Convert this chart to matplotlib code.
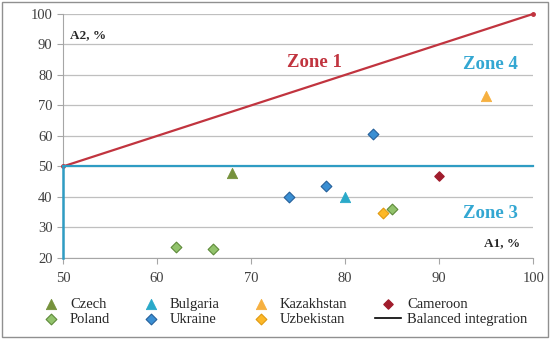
import matplotlib
matplotlib.use("Agg")
import matplotlib.pyplot as plt
from matplotlib.lines import Line2D
from matplotlib.patches import Rectangle

plt.rcParams["font.family"] = ["Liberation Serif", "DejaVu Serif"]

# country points (A1 %, A2 %)
czech_x, czech_y = [68], [48]
poland_x, poland_y = [62, 66, 85], [23.5, 23, 36]
bulgaria_x, bulgaria_y = [80], [40]
ukraine_x, ukraine_y = [74, 78, 83], [40, 43.7, 60.5]
kazakh_x, kazakh_y = [95], [73]
uzbek_x, uzbek_y = [84], [34.7]
cameroon_x, cameroon_y = [90], [47]

# zone boundaries
diag_x, diag_y = [50, 100], [50, 100]
horiz_x, horiz_y = [50, 100], [50, 50]
vert_x, vert_y = [50, 50], [20, 50]

xticks = [50, 60, 70, 80, 90, 100]
yticks = [20, 30, 40, 50, 60, 70, 80, 90, 100]

RED = "#C1343F"
BLUE = "#2F9CC3"
ZONE_BLUE = "#33A7D2"

fig = plt.figure(figsize=(5.5, 3.39), dpi=100)
ax = fig.add_axes([0.1145, 0.239, 0.855, 0.72])

ax.set_xlim(50, 100)
ax.set_ylim(20, 100)
ax.set_xticks(xticks)
ax.set_yticks(yticks)
ax.grid(axis="y", color="#BFBFBF", lw=0.9)
ax.set_axisbelow(True)
for s in ["top", "right"]:
    ax.spines[s].set_visible(False)
for s in ["left", "bottom"]:
    ax.spines[s].set_color("#A6A6A6")
ax.tick_params(colors="#A6A6A6", labelcolor="#404040", labelsize=10.5, length=4)
ax.tick_params(axis="x", pad=6)

ax.plot(diag_x, diag_y, color=RED, lw=1.6, marker="o", ms=2.5, zorder=3, clip_on=False)
ax.plot(horiz_x, horiz_y, color=BLUE, lw=1.6, zorder=3, clip_on=False)
ax.plot(vert_x, vert_y, color=BLUE, lw=1.8, zorder=3, clip_on=False)

tri = dict(marker="^", s=55, linewidths=0.6, zorder=4)
dia = dict(marker="D", s=30, linewidths=0.8, zorder=4)
h_cz = ax.scatter(czech_x, czech_y, color="#76923C", edgecolors="#76923C", **tri, label="Czech")
h_pl = ax.scatter(poland_x, poland_y, color="#92C36C", edgecolors="#5E8A3A", **dia, label="Poland")
h_bg = ax.scatter(bulgaria_x, bulgaria_y, color="#2AA9C9", edgecolors="#2AA9C9", **tri, label="Bulgaria")
h_ua = ax.scatter(ukraine_x, ukraine_y, color="#3A8FD3", edgecolors="#25609A", **dia, label="Ukraine")
h_kz = ax.scatter(kazakh_x, kazakh_y, color="#F6B040", edgecolors="#F6B040", **tri, label="Kazakhstan")
h_uz = ax.scatter(uzbek_x, uzbek_y, color="#FDB828", edgecolors="#E09A10", **dia, label="Uzbekistan")
h_cm = ax.scatter(cameroon_x, cameroon_y, color="#A01C2C", edgecolors="#A01C2C", marker="D",
                  s=22, zorder=4, label="Cameroon")
h_bal = Line2D([], [], color="black", lw=1.2, label="Balanced integration")

ax.text(50.8, 93, "A2, %", fontsize=9.5, fontweight="bold", color="#262626", va="center")
ax.text(98.6, 25, "A1, %", fontsize=9.5, fontweight="bold", color="#262626", va="center", ha="right")
ax.text(76.7, 84, "Zone 1", fontsize=13.5, fontweight="bold", color=RED, ha="center", va="center")
ax.text(95.5, 83.5, "Zone 4", fontsize=13.5, fontweight="bold", color=ZONE_BLUE, ha="center", va="center")
ax.text(95.5, 34.5, "Zone 3", fontsize=13.5, fontweight="bold", color=ZONE_BLUE, ha="center", va="center")

fig.legend(handles=[h_cz, h_pl, h_bg, h_ua, h_kz, h_uz, h_cm, h_bal], ncol=4,
           loc="lower left", bbox_to_anchor=(0.045, 0.0), frameon=False,
           fontsize=10.5, handlelength=1.8, handletextpad=0.4, columnspacing=1.9,
           labelspacing=0.1, labelcolor="#262626")

fig.add_artist(Rectangle((0.004, 0.006), 0.992, 0.988, transform=fig.transFigure,
                         fill=False, edgecolor="#909090", lw=1.0))

fig.savefig("out.png", dpi=100)
